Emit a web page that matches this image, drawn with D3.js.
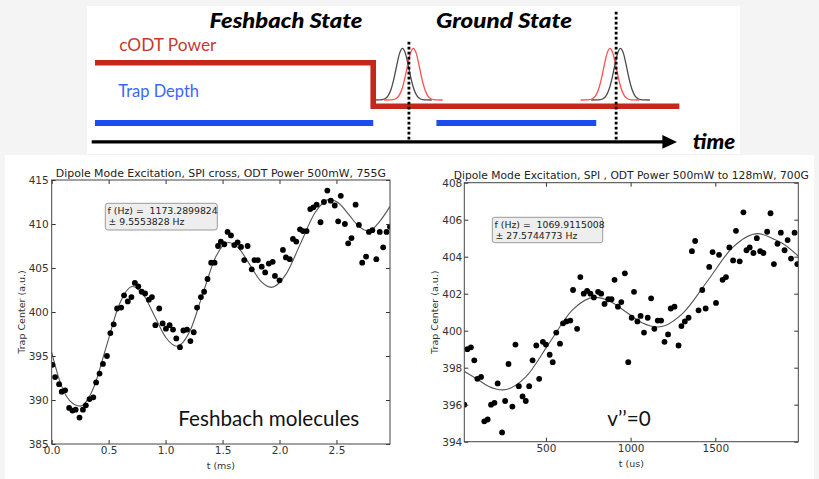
<!DOCTYPE html>
<html>
<head>
<meta charset="utf-8">
<script src="https://cdn.jsdelivr.net/npm/d3@7"></script>
<style>
  body { margin: 0; background: #f4f4f4; }
  svg { display: block; }
</style>
</head>
<body>
<svg id="fig" width="819" height="479"></svg>
<script>
// ---------------- sequence schematic (time in arbitrary units 0..100) ----------------
const phaseNames   = ["Feshbach State", "Ground State"];
const powerT       = [0.56, 48.1, 48.1, 100.4];     // cODT power steps down
const powerLevel   = [1, 1, 0, 0];
const trapStart    = [0.56, 58.9];
const trapEnd      = [48.1, 86.2];
const trapLevel    = -0.384;
const probeTimes   = [54.2, 89.6];
const probeTops    = [1.483, 2.172];
const pulseBlackT  = [53.1, 90.35];
const pulseRedT    = [54.95, 88.55];
const pulseOffsets = [-5, -4, -3.5, -3, -2.5, -2, -1.5, -1, -0.5, 0, 0.5, 1, 1.5, 2, 2.5, 3, 3.5, 4, 5];
const pulseHeights = [0, 0.001, 0.006, 0.024, 0.076, 0.192, 0.395, 0.662, 0.902, 1, 0.902, 0.662, 0.395, 0.192, 0.076, 0.024, 0.006, 0.001, 0];
const pulseBase    = 0.145;
const pulsePeak    = 1.333;
const axisLevel    = -0.818;

// ---------------- Feshbach molecules: dipole oscillation ----------------
const feshT = [0.006,0.03,0.065,0.088,0.118,0.153,0.182,0.21,0.244,0.274,0.30,0.332,0.365,0.39,0.42,0.45,0.485,0.515,0.544,0.574,
  0.61,0.635,0.668,0.70,0.73,0.76,0.79,0.82,0.853,0.88,0.91,0.944,0.974,1.003,1.035,1.065,1.094,1.126,1.156,1.188,
  1.218,1.247,1.276,1.31,1.338,1.368,1.40,1.43,1.46,1.485,1.515,1.544,1.574,1.603,1.632,1.662,1.69,1.72,1.756,1.78,
  1.81,1.844,1.874,1.906,1.94,1.96,2.0,2.03,2.056,2.09,2.118,2.147,2.18,2.206,2.238,2.27,2.297,2.326,2.36,2.39,
  2.42,2.45,2.485,2.515,2.538,2.574,2.603,2.632,2.668,2.697,2.726,2.76,2.785,2.815,2.85,2.88,2.91,2.94,2.97];
const feshV = [394.0,392.6,391.8,390.95,391.1,389.1,388.8,388.9,388.0,388.9,389.4,390.1,390.3,392.0,393.0,394.1,395.0,397.6,398.6,400.4,
  400.5,401.9,401.2,401.7,403.3,402.9,402.3,402.1,401.4,401.7,398.5,400.4,398.7,398.1,398.5,398.0,397.0,396.0,397.9,398.0,
  396.7,397.7,400.5,401.7,402.3,403.75,405.6,405.6,407.5,408.0,407.7,409.1,408.7,407.6,407.9,407.4,405.9,407.5,404.85,405.9,
  405.9,405.15,404.5,405.5,405.7,404.1,403.6,407.05,406.2,406.0,408.3,408.0,409.4,409.2,409.2,411.7,411.9,412.2,410.2,412.5,
  413.8,412.65,412.1,410.3,413.2,410.0,407.8,408.4,412.2,409.9,405.6,406.3,409.1,409.3,406.0,409.1,407.35,409.1,409.7];
const feshFitT = [0,0.08,0.16,0.25,0.365,0.48,0.595,0.71,0.8075,0.905,1.0025,1.1,1.2125,1.325,1.4375,1.55,1.645,1.74,1.835,1.93,
  2.0575,2.185,2.3125,2.44,2.526,2.6125,2.699,2.785,2.88,2.97];
const feshFitV = [395.4,391.8,389.9,389.3,391.3,396.1,400.9,402.9,401.9,399.5,397.1,396.1,397.8,402.0,406.2,407.9,407.2,405.35,403.5,402.8,
  404.3,407.8,411.3,412.8,412.3,411.0,409.7,409.2,410.3,412.0];
const feshXTicks = [0, 0.5, 1.0, 1.5, 2.0, 2.5];
const feshYTicks = [385, 390, 395, 400, 405, 410, 415];

// ---------------- ground state v''=0: dipole oscillation ----------------
const gsT = [18,36,57,77,95,117,136,156,176,196,215,241,259,279,302,320,340,362,381,401,
  421,443,460,482,500,522,540,561,583,601,621,644,660,684,703,723,743,763,783,808,
  826,846,868,887,905,925,945,966,986,1006,1020,1040,1059,1079,1101,1121,1140,1160,1180,1200,
  1221,1237,1259,1283,1300,1320,1342,1362,1381,1401,1423,1443,1464,1484,1504,1522,1543,1563,1583,1605,
  1622,1644,1666,1684,1703,1725,1745,1765,1784,1806,1826,1846,1867,1887,1909,1927,1947,1968,1984];
const gsV = [396.0,399.0,399.1,398.4,397.4,397.5,395.1,395.2,396.0,396.1,397.15,394.5,396.2,398.2,395.9,399.25,397.0,396.45,396.2,397.0,
  398.4,399.2,397.4,399.4,399.25,398.7,398.3,399.9,399.3,400.4,400.5,400.55,402.2,400.1,402.9,402.0,402.15,402.0,401.8,402.1,
  402.0,401.45,401.7,401.7,402.75,401.3,401.55,403.1,398.3,400.7,402.1,400.5,400.8,399.9,400.7,401.75,400.1,400.55,400.55,399.4,
  399.8,401.2,401.3,399.2,400.25,400.5,400.7,404.3,404.85,401.1,402.2,401.2,403.45,404.25,401.5,404.1,402.75,402.9,404.5,403.8,
  405.4,403.75,406.4,404.35,404.5,404.2,405.0,404.3,404.2,405.35,406.35,403.6,404.7,405.3,404.35,404.9,403.9,405.3,403.6];
const gsFitT = [18,100,160,245,381,517.5,654,790,882.5,975,1067.5,1160,1307.5,1455,1602.5,1750,1845,1900,1990];
const gsFitV = [397.8,397.35,397.0,396.8,397.5,399.3,401.1,401.8,401.57,401.0,400.43,400.2,400.94,402.7,404.5,405.25,404.95,404.7,404.03];
const gsXTicks = [500, 1000, 1500];
const gsYTicks = [394, 396, 398, 400, 402, 404, 406, 408];

const svg = d3.select("#fig");

// white panels on the light grey page
svg.append("rect").attr("x", 87).attr("y", 6).attr("width", 653).attr("height", 148).attr("fill", "#fff");
svg.append("rect").attr("x", 5).attr("y", 155).attr("width", 809).attr("height", 324).attr("fill", "#fff");

// ---------------- schematic ----------------
const xT = d3.scaleLinear().domain([0, 100]).range([91.7, 677]);
const yL = d3.scaleLinear().domain([0, 1]).range([106.3, 62.8]);
const sch = svg.append("g");

const RED = "#c4271b", BLUE = "#1a4cf2";

// pulses (drawn first so the power line sits on their feet)
const pulseLine = (c) => d3.line()
  .x(i => xT(c + pulseOffsets[i]))
  .y(i => yL(pulseBase + (pulsePeak - pulseBase) * pulseHeights[i]))
  .curve(d3.curveMonotoneX)(d3.range(pulseOffsets.length));
pulseBlackT.forEach(c => sch.append("path").attr("d", pulseLine(c))
  .attr("fill", "none").attr("stroke", "#4a4a4a").attr("stroke-width", 1.3));
pulseRedT.forEach(c => sch.append("path").attr("d", pulseLine(c))
  .attr("fill", "none").attr("stroke", "#ff4f4f").attr("stroke-width", 1.3));

// cODT power
sch.append("path")
  .attr("d", d3.line().x(i => xT(powerT[i])).y(i => yL(powerLevel[i])).curve(d3.curveLinear)(d3.range(powerT.length)))
  .attr("fill", "none").attr("stroke", RED).attr("stroke-width", 5.6).attr("stroke-linejoin", "miter");

// trap depth segments
trapStart.forEach((s, i) => sch.append("line")
  .attr("x1", xT(s)).attr("x2", xT(trapEnd[i]))
  .attr("y1", yL(trapLevel)).attr("y2", yL(trapLevel))
  .attr("stroke", BLUE).attr("stroke-width", 6));

// time axis with arrow
sch.append("line").attr("x1", xT(0)).attr("x2", xT(97.6))
  .attr("y1", yL(axisLevel)).attr("y2", yL(axisLevel))
  .attr("stroke", "#000").attr("stroke-width", 3.2);
sch.append("path")
  .attr("d", `M${xT(100)},${yL(axisLevel)} L${xT(97.5)},${yL(axisLevel) - 6.8} L${xT(97.5)},${yL(axisLevel) + 6.8} Z`)
  .attr("fill", "#000");

// probe (dotted) markers
probeTimes.forEach((t, i) => sch.append("line")
  .attr("x1", xT(t)).attr("x2", xT(t))
  .attr("y1", yL(probeTops[i])).attr("y2", yL(axisLevel))
  .attr("stroke", "#000").attr("stroke-width", 2.8).attr("stroke-dasharray", "2.7,2.3"));

// schematic labels
const HUMANIST = "Lato, 'Open Sans', sans-serif";
function heading(x, y, txt, len) {
  sch.append("text").attr("x", x).attr("y", y)
    .attr("font-family", HUMANIST).attr("font-weight", 900).attr("font-style", "italic")
    .attr("font-size", 20).attr("fill", "#000")
    .attr("textLength", len).attr("lengthAdjust", "spacingAndGlyphs").text(txt);
}
heading(209.5, 28, phaseNames[0], 153);
heading(436, 27.5, phaseNames[1], 136);
heading(692.7, 149, "time", 42.5);
sch.append("text").attr("x", 119.3).attr("y", 50.7)
  .attr("font-family", HUMANIST).attr("font-size", 16.5).attr("fill", "#c53a2c")
  .attr("textLength", 97).attr("lengthAdjust", "spacingAndGlyphs").text("cODT Power");
sch.append("text").attr("x", 118.3).attr("y", 96.5)
  .attr("font-family", HUMANIST).attr("font-size", 16.5).attr("fill", "#3c67f5")
  .attr("textLength", 80.7).attr("lengthAdjust", "spacingAndGlyphs").text("Trap Depth");

// ---------------- data panels ----------------
const MPL = "'DejaVu Sans', Verdana, sans-serif";

function panel(o) {
  const x = d3.scaleLinear().domain(o.xDomain).range(o.xRange);
  const y = d3.scaleLinear().domain(o.yDomain).range(o.yRange);
  const [xl, xr] = o.xRange, [yb, yt] = o.yRange;
  const g = svg.append("g");

  const clipId = "clip-" + o.id;
  g.append("clipPath").attr("id", clipId).append("rect")
    .attr("x", xl).attr("y", yt).attr("width", xr - xl).attr("height", yb - yt);

  const plotArea = g.append("g").attr("clip-path", `url(#${clipId})`);
  plotArea.append("path")
    .attr("d", d3.line().x(i => x(o.fitT[i])).y(i => y(o.fitV[i])).curve(d3.curveMonotoneX)(d3.range(o.fitT.length)))
    .attr("fill", "none").attr("stroke", "#555").attr("stroke-width", 1.1);
  plotArea.selectAll("circle.pt").data(d3.range(o.t.length)).join("circle")
    .attr("class", "pt")
    .attr("cx", i => x(o.t[i])).attr("cy", i => y(o.v[i])).attr("r", 2.9).attr("fill", "#000");

  const styleAxis = (sel) => {
    sel.select(".domain").remove();
    sel.selectAll(".tick line").attr("stroke", "#333");
    sel.selectAll(".tick text").attr("fill", "#333").attr("font-family", MPL).attr("font-size", 10.5);
  };
  g.append("g").attr("transform", `translate(0,${yb})`)
    .call(d3.axisBottom(x).tickValues(o.xTicks).tickFormat(o.xFmt).tickSizeInner(-4).tickSizeOuter(0).tickPadding(3))
    .call(styleAxis);
  g.append("g").attr("transform", `translate(0,${yt})`)
    .call(d3.axisTop(x).tickValues(o.xTicks).tickFormat("").tickSizeInner(-4).tickSizeOuter(0))
    .call(styleAxis);
  g.append("g").attr("transform", `translate(${xl},0)`)
    .call(d3.axisLeft(y).tickValues(o.yTicks).tickFormat(d3.format("d")).tickSizeInner(-4).tickSizeOuter(0).tickPadding(o.yPad))
    .call(styleAxis);
  g.append("g").attr("transform", `translate(${xr},0)`)
    .call(d3.axisRight(y).tickValues(o.yTicks).tickFormat("").tickSizeInner(-4).tickSizeOuter(0))
    .call(styleAxis);

  g.append("rect").attr("x", xl).attr("y", yt).attr("width", xr - xl).attr("height", yb - yt)
    .attr("fill", "none").attr("stroke", "#444").attr("stroke-width", 1);

  // title and axis labels
  g.append("text").attr("x", (xl + xr) / 2).attr("y", o.titleY).attr("text-anchor", "middle")
    .attr("font-family", MPL).attr("font-size", 10.9).attr("fill", "#222")
    .attr("textLength", o.titleLen).attr("lengthAdjust", "spacingAndGlyphs").text(o.title);
  g.append("text").attr("x", (xl + xr) / 2).attr("y", o.xLabelY).attr("text-anchor", "middle")
    .attr("font-family", MPL).attr("font-size", 9.5).attr("fill", "#333").text(o.xLabel);
  g.append("text").attr("transform", `translate(${o.yLabelX},${(yb + yt) / 2}) rotate(-90)`)
    .attr("text-anchor", "middle").attr("dy", "0.35em")
    .attr("font-family", MPL).attr("font-size", 9.5).attr("fill", "#333").text("Trap Center (a.u.)");

  // fit result box
  const box = g.append("g");
  const bx = o.boxX, by = o.boxY;
  box.append("rect").attr("x", bx).attr("y", by).attr("width", o.boxW).attr("height", o.boxH).attr("rx", 2.5)
    .attr("fill", "#eeeeee").attr("stroke", "#9a9a9a").attr("stroke-width", 1);
  box.append("text").attr("x", bx + 2.3).attr("y", by + 10.5)
    .attr("font-family", MPL).attr("font-size", 9.3).attr("fill", "#222").text(o.fitLine1);
  box.append("text").attr("x", bx + 3.3).attr("y", by + 21.8)
    .attr("font-family", MPL).attr("font-size", 9.3).attr("fill", "#222").text(o.fitLine2);

  // state annotation
  g.append("text").attr("x", o.noteX).attr("y", 426)
    .attr("font-family", HUMANIST).attr("font-size", 21.5).attr("fill", "#111")
    .attr("textLength", o.noteLen).attr("lengthAdjust", "spacingAndGlyphs").text(o.note);
}

panel({
  id: "fesh", t: feshT, v: feshV, fitT: feshFitT, fitV: feshFitV,
  xDomain: [0, 2.97], xRange: [51.7, 390], yDomain: [385, 415], yRange: [444, 180],
  xTicks: feshXTicks, yTicks: feshYTicks, xFmt: d3.format(".1f"), yPad: 3,
  title: "Dipole Mode Excitation, SPI cross, ODT Power 500mW, 755G", titleY: 176.6, titleLen: 330,
  xLabel: "t (ms)", xLabelY: 469, yLabelX: 22,
  boxX: 105.3, boxY: 203.3, boxW: 112, boxH: 26.7,
  fitLine1: "f (Hz) =\u00a0 1173.2899824", fitLine2: "± 9.5553828 Hz",
  note: "Feshbach molecules", noteX: 178.3, noteLen: 181
});

panel({
  id: "gs", t: gsT, v: gsV, fitT: gsFitT, fitV: gsFitV,
  xDomain: [18, 1990], xRange: [464.3, 798.3], yDomain: [394, 408], yRange: [441.7, 182.7],
  xTicks: gsXTicks, yTicks: gsYTicks, xFmt: d3.format("d"), yPad: 2,
  title: "Dipole Mode Excitation, SPI , ODT Power 500mW to 128mW, 700G", titleY: 179, titleLen: 355,
  xLabel: "t (us)", xLabelY: 467, yLabelX: 434.5,
  boxX: 492.3, boxY: 217.3, boxW: 110.4, boxH: 25.4,
  fitLine1: "f (Hz) =\u00a0 1069.9115008", fitLine2: "± 27.5744773 Hz",
  note: "v’’=0", noteX: 607.3, noteLen: 43.4
});
</script>
</body>
</html>
